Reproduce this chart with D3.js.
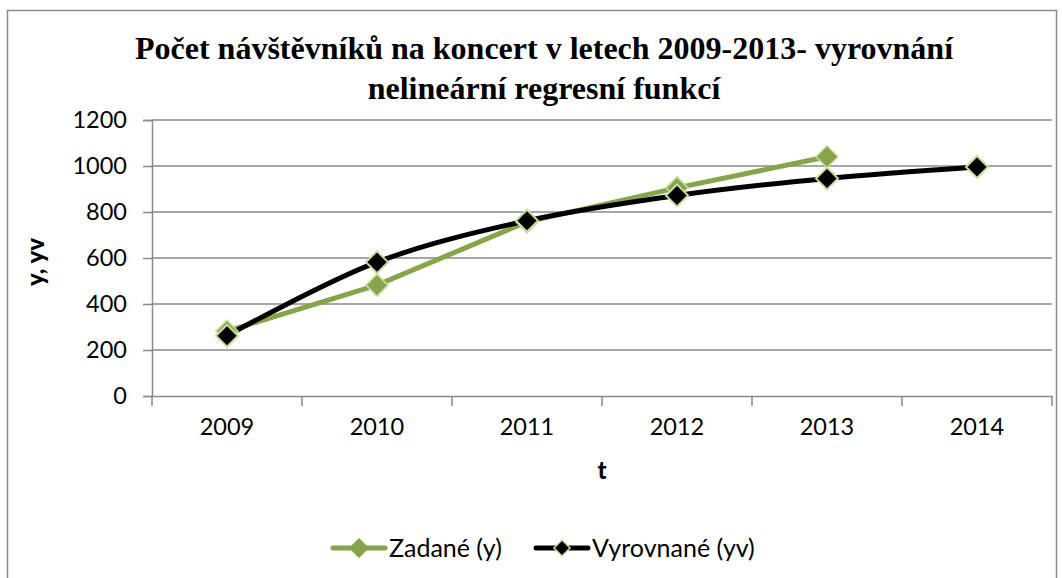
<!DOCTYPE html>
<html>
<head>
<meta charset="utf-8">
<script src="https://cdn.jsdelivr.net/npm/d3@7"></script>
<style>
  html, body { margin: 0; padding: 0; background: #fff; }
  svg { display: block; }
</style>
</head>
<body>
<svg id="chart" width="1062" height="578"></svg>
<script>
const categories = ["2009", "2010", "2011", "2012", "2013", "2014"];
const zadane = [282, 482, 757, 905, 1040, null];
const vyrovnane = [262, 582, 762, 872, 946, 996];
const yTicks = [0, 200, 400, 600, 800, 1000, 1200];
const titleLines = ["Počet návštěvníků na koncert v letech 2009-2013- vyrovnání", "nelineární regresní funkcí"];
const seriesNames = ["Zadané (y)", "Vyrovnané (yv)"];

const svg = d3.select("#chart");
const plot = { left: 152, right: 1052, top: 120, bottom: 396 };
const green = "#86A44A";
const markerEdge = "#C6DC9E";
const tickFont = "Lato, 'Open Sans', sans-serif";

// outer border
svg.append("rect").attr("x", 7.5).attr("y", 10.5).attr("width", 1049).attr("height", 580)
  .attr("fill", "#fff").attr("stroke", "#8c8c8c").attr("stroke-width", 1.5);

const x = d3.scaleBand().domain(categories).range([plot.left, plot.right]);
const y = d3.scaleLinear().domain([0, 1200]).range([plot.bottom, plot.top]);

// gridlines
svg.append("g").selectAll("line").data(yTicks.filter(d => d > 0)).join("line")
  .attr("x1", plot.left).attr("x2", plot.right)
  .attr("y1", d => y(d)).attr("y2", d => y(d))
  .attr("stroke", "#8a8a8a").attr("stroke-width", 1.5);

// y axis
const yAxis = svg.append("g").attr("transform", `translate(${plot.left},0)`)
  .call(d3.axisLeft(y).tickValues(yTicks).tickFormat(d3.format("d")).tickSize(9).tickPadding(16));
yAxis.select(".domain").attr("stroke", "#8a8a8a").attr("stroke-width", 1.5);
yAxis.selectAll(".tick line").attr("stroke", "#8a8a8a").attr("stroke-width", 1.5);
yAxis.selectAll("text").attr("font-family", tickFont).attr("font-size", 23.5).attr("fill", "#000");

// x axis
const xAxis = svg.append("g").attr("transform", `translate(0,${plot.bottom})`)
  .call(d3.axisBottom(x).tickSize(0).tickPadding(22));
xAxis.select(".domain").attr("stroke", "#8a8a8a").attr("stroke-width", 1.5);
xAxis.selectAll("text").attr("font-family", tickFont).attr("font-size", 23.5).attr("fill", "#000");
// category separator ticks
const bounds = categories.map(c => x(c)).concat([x(categories[categories.length - 1]) + x.bandwidth()]);
svg.append("g").selectAll("line").data(bounds).join("line")
  .attr("x1", d => d).attr("x2", d => d)
  .attr("y1", plot.bottom).attr("y2", plot.bottom + 10)
  .attr("stroke", "#8a8a8a").attr("stroke-width", 1.5);

// title
svg.append("text").attr("text-anchor", "middle")
  .attr("font-family", "'Liberation Serif', 'Times New Roman', serif")
  .attr("font-weight", "bold").attr("font-size", 32)
  .selectAll("tspan").data(titleLines).join("tspan")
  .attr("x", 544).attr("y", (d, i) => 59 + i * 40).text(d => d);

// axis titles
svg.append("text").attr("transform", "translate(44,262) rotate(-90)")
  .attr("text-anchor", "middle").attr("font-family", tickFont)
  .attr("font-weight", "900").attr("font-size", 24).text("y, yv");
svg.append("text").attr("x", 602).attr("y", 479).attr("text-anchor", "middle")
  .attr("font-family", tickFont).attr("font-weight", "900").attr("font-size", 24).text("t");

const cx = c => x(c) + x.bandwidth() / 2;
const diamond = (s) => `M0,${-s}L${s},0L0,${s}L${-s},0Z`;

// green series
const gData = categories.map((c, i) => ({ c, v: zadane[i] })).filter(d => d.v != null);
svg.append("path").datum(gData)
  .attr("d", d3.line().x(d => cx(d.c)).y(d => y(d.v)))
  .attr("fill", "none").attr("stroke", green).attr("stroke-width", 5).attr("stroke-linejoin", "round");

// black series (smoothed)
const bData = categories.map((c, i) => ({ c, v: vyrovnane[i] }));
svg.append("path").datum(bData)
  .attr("d", d3.line().curve(d3.curveCatmullRom.alpha(0.5)).x(d => cx(d.c)).y(d => y(d.v)))
  .attr("fill", "none").attr("stroke", "#000").attr("stroke-width", 5).attr("stroke-linejoin", "round");

// green markers
svg.append("g").selectAll("path").data(gData).join("path")
  .attr("transform", d => `translate(${cx(d.c)},${y(d.v)})`)
  .attr("d", diamond(11)).attr("fill", green).attr("stroke", markerEdge).attr("stroke-width", 1.5);

// black markers
svg.append("g").selectAll("path").data(bData).join("path")
  .attr("transform", d => `translate(${cx(d.c)},${y(d.v)})`)
  .attr("d", diamond(11)).attr("fill", "#000").attr("stroke", markerEdge).attr("stroke-width", 2);

// legend
const legend = svg.append("g");
const legItems = [
  { name: seriesNames[0], x0: 333, color: green, fill: green, edge: green, s: 9 },
  { name: seriesNames[1], x0: 536, color: "#000", fill: "#000", edge: markerEdge, s: 8 }
];
const ly = 548;
legItems.forEach(it => {
  legend.append("line").attr("x1", it.x0).attr("x2", it.x0 + 52).attr("y1", ly).attr("y2", ly)
    .attr("stroke", it.color).attr("stroke-width", 5).attr("stroke-linecap", "round");
  legend.append("path").attr("transform", `translate(${it.x0 + 26},${ly})`)
    .attr("d", diamond(it.s)).attr("fill", it.fill).attr("stroke", it.edge).attr("stroke-width", 1.5);
  legend.append("text").attr("x", it.x0 + 56).attr("y", ly + 9)
    .attr("font-family", tickFont).attr("font-size", 25).text(it.name);
});
</script>
</body>
</html>
